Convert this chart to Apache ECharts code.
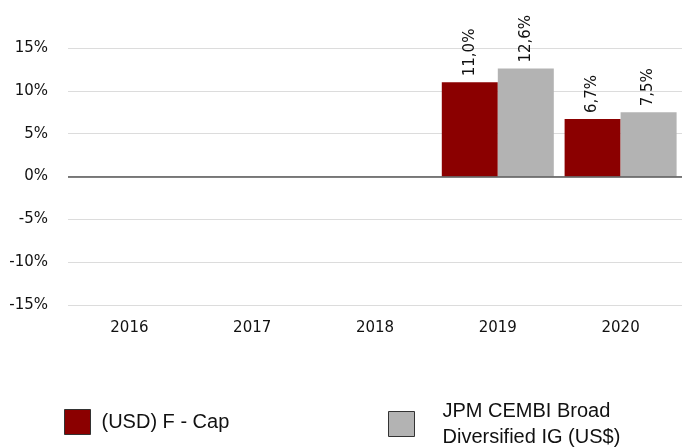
<!DOCTYPE html>
<html>
<head>
<meta charset="utf-8">
<script src="https://cdn.jsdelivr.net/npm/echarts@6/dist/echarts.min.js"></script>
<style>
  html, body { margin: 0; padding: 0; background: #fff; }
  #chart { width: 686px; height: 447px; }
</style>
</head>
<body>
<div id="chart"></div>
<script>
// categories and values
const years = ['2016', '2017', '2018', '2019', '2020']
const fundValues = [null, null, null, 11.0, 6.7]
const benchValues = [null, null, null, 12.6, 7.5]
const fundName = '(USD) F - Cap'
const benchName = 'JPM CEMBI Broad\nDiversified IG (US$)'

const pct = v => v.toFixed(1).replace('.', ',') + '%'

const barLabel = {
    show: true,
    position: 'top',
    rotate: 90,
    align: 'left',
    verticalAlign: 'middle',
    distance: 6,
    fontFamily: 'DejaVu Sans',
    fontSize: 15,
    color: '#111',
    formatter: p => pct(p.value)
}

const legendText = {
    fontFamily: 'Liberation Sans',
    fontSize: 20,
    color: '#111',
    lineHeight: 26
}

let chart = echarts.init(document.getElementById('chart'))

chart.setOption({
    animation: false,
    grid: { left: 68, right: 4, top: 48, bottom: 142 },
    legend: [
        {
            data: [fundName],
            left: 59, top: 404,
            icon: 'rect', itemWidth: 26, itemHeight: 25,
            textStyle: Object.assign({}, legendText, { padding: [0, 0, 0, 6] }),
            itemStyle: { borderColor: '#333', borderWidth: 1 }
        },
        {
            data: [benchName],
            left: 383, top: 393,
            icon: 'rect', itemWidth: 26, itemHeight: 25, itemGap: 0,
            textStyle: Object.assign({}, legendText, { padding: [0, 0, 0, 23] }),
            itemStyle: { borderColor: '#333', borderWidth: 1 }
        }
    ],
    xAxis: {
        type: 'category',
        data: years,
        axisLine: { show: false },
        axisTick: { show: false },
        axisLabel: { fontFamily: 'DejaVu Sans', fontSize: 15, color: '#111', margin: 16 }
    },
    yAxis: {
        type: 'value',
        min: -15, max: 15, interval: 5,
        axisLine: { show: false },
        axisTick: { show: false },
        axisLabel: { fontFamily: 'DejaVu Sans', fontSize: 15, color: '#111', margin: 20, formatter: v => v + '%' },
        splitLine: { lineStyle: { color: '#dcdcdc', width: 1 } }
    },
    series: [
        {
            name: fundName, type: 'bar', data: fundValues,
            barWidth: 56, barGap: '0%',
            itemStyle: { color: '#8b0000' },
            label: barLabel,
            markLine: {
                silent: true, symbol: 'none', label: { show: false },
                lineStyle: { color: '#555', type: 'solid', width: 1.5 },
                data: [{ yAxis: 0 }]
            }
        },
        {
            name: benchName, type: 'bar', data: benchValues,
            barWidth: 56,
            itemStyle: { color: '#b3b3b3' },
            label: barLabel
        }
    ]
})
</script>
</body>
</html>
